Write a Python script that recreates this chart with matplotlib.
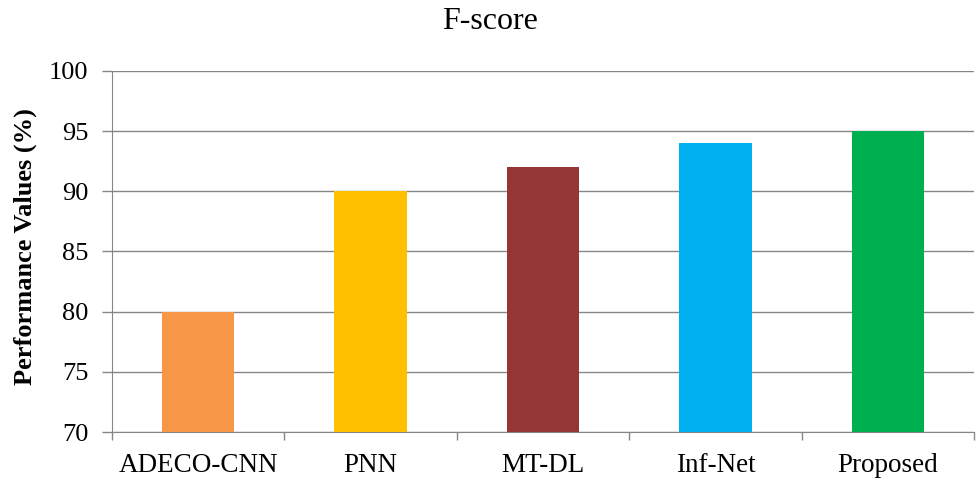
import matplotlib.pyplot as plt
import numpy as np

plt.rcParams["font.family"] = ["Liberation Serif", "DejaVu Serif"]

methods = ["ADECO-CNN", "PNN", "MT-DL", "Inf-Net", "Proposed"]
fscore = [80, 90, 92, 94, 95]
colors = ["#F79646", "#FFC000", "#943634", "#00B0F0", "#00B050"]
y_ticks = [70, 75, 80, 85, 90, 95, 100]

fig = plt.figure(figsize=(9.76, 4.78), dpi=100)
ax = fig.add_axes([0.1148, 0.0962, 0.8832, 0.7553])

x = np.arange(len(methods))
ax.bar(x, fscore, width=0.42, color=colors, zorder=3)

ax.set_xlim(-0.5, len(methods) - 0.5)
ax.set_ylim(70, 100)
ax.set_yticks(y_ticks)
ax.set_yticklabels([str(v) for v in y_ticks], fontsize=19)

ax.set_xticks(x)
ax.set_xticklabels(methods, fontsize=19.5)
ax.tick_params(axis="x", length=0, pad=15)
ax.set_xticks(np.arange(-0.5, len(methods)), minor=True)
ax.tick_params(axis="x", which="minor", length=5.5, color="#868686", width=1)
ax.tick_params(axis="y", length=7, color="#868686", width=1, pad=10)

ax.yaxis.grid(True, color="#868686", linewidth=1, zorder=0)
for side in ["top", "right"]:
    ax.spines[side].set_visible(False)
for side in ["left", "bottom"]:
    ax.spines[side].set_color("#868686")

ax.set_ylabel("Performance Values (%)", fontsize=19, fontweight="bold")
ax.yaxis.set_label_coords(-0.087, 0.515)
fig.suptitle("F-score", fontsize=23, x=0.502, y=0.985)

plt.savefig("out.png", dpi=100)
